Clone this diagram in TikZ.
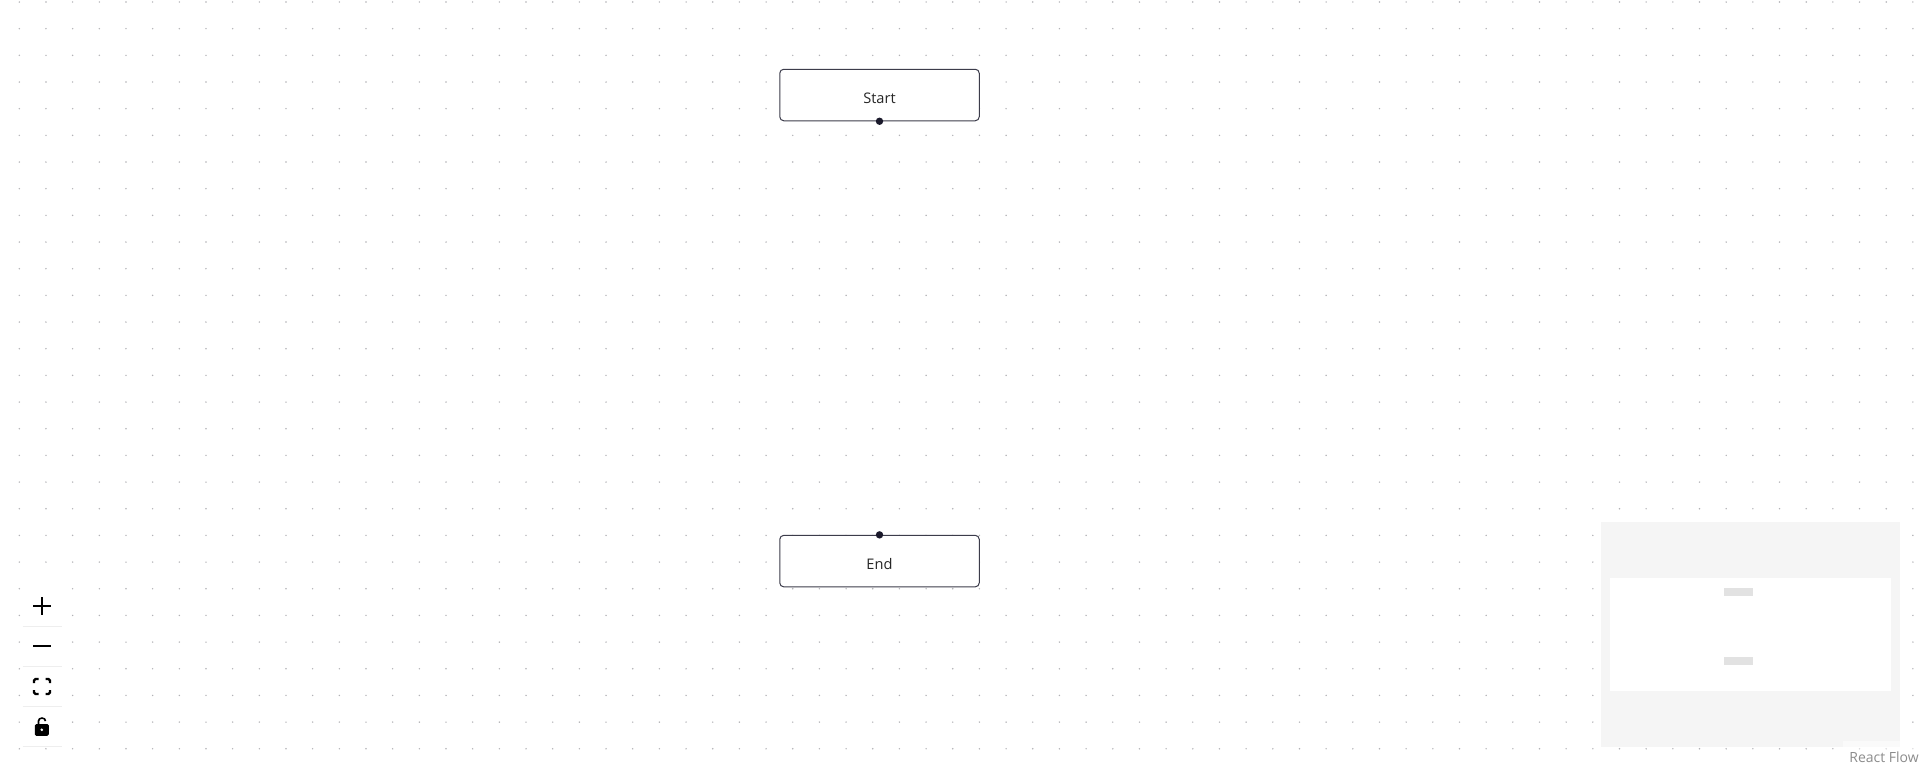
\documentclass[tikz,border=0pt]{standalone}
\usepackage{fontspec}
\setmainfont{Open Sans}
\definecolor{FlowInk}{RGB}{26,25,43}
\definecolor{DotGray}{RGB}{178,178,182}
\definecolor{PanelGray}{RGB}{245,245,245}
\definecolor{MiniGray}{RGB}{226,226,226}
\definecolor{RuleGray}{RGB}{238,238,238}
\usetikzlibrary{positioning}
\tikzset{
  flownode/.style={draw=FlowInk!85, fill=white, rounded corners=4pt, line width=1pt,
    minimum width=199.5pt, inner sep=0pt, text height=34pt, text depth=17.5pt,
    font=\fontsize{14.6}{18}\selectfont, text=black!85},
  handledot/.style={circle, fill=FlowInk, inner sep=0pt, minimum size=7.4pt},
  minirect/.style={fill=MiniGray, draw=none, inner sep=0pt, minimum width=29pt, minimum height=8pt},
  ctrlicon/.style={line width=2.6pt, draw=black},
  ctrlrule/.style={draw=RuleGray, line width=1pt}
}

\begin{document}
\begin{tikzpicture}[x=1pt,y=-1pt]
\useasboundingbox (0,0) rectangle (1923,769);
\fill[white] (0,0) rectangle (1923,769);
% background dots
\foreach \i in {0,...,71}{
  \foreach \j in {0,...,28}{
    \fill[DotGray] ({19.3+26.67*\i},{2+26.67*\j}) circle (0.8pt);
  }
}
% nodes
\node[flownode] (startbox) at (879.5,95) {Start};
\node[flownode, below=413.6pt of startbox] (endbox) {End};
\node[handledot] (starthandle) at (startbox.south) {};
\node[handledot] (endhandle) at (endbox.north) {};
% zoom controls
\fill[white] (22,586) rectangle (62,747);
\draw[ctrlicon] (33,606) -- (51,606);
\draw[ctrlicon] (42,597) -- (42,615);
\draw[ctrlicon] (33,646) -- (51,646);
\draw[ctrlicon, line width=2.2pt, rounded corners=1.5pt] (34,683) -- (34,679) -- (38.5,679);
\draw[ctrlicon, line width=2.2pt, rounded corners=1.5pt] (45.5,679) -- (50,679) -- (50,683);
\draw[ctrlicon, line width=2.2pt, rounded corners=1.5pt] (34,690) -- (34,694) -- (38.5,694);
\draw[ctrlicon, line width=2.2pt, rounded corners=1.5pt] (45.5,694) -- (50,694) -- (50,690);
\draw[ctrlicon, line width=1.6pt] (38.5,724) -- (38.5,721) arc[start angle=180, end angle=360, x radius=3.5pt, y radius=-3pt];
\fill[black, rounded corners=1.5pt] (34.8,724) rectangle (48.8,735.8);
\fill[white] (41.8,729.8) circle (1.4pt);
\foreach \y in {626.3,666.3,706.3,746.3}{
  \draw[ctrlrule] (22.7,\y) -- (61.7,\y);
}
% minimap
\fill[PanelGray] (1601,522) rectangle (1900.3,747);
\fill[white] (1610,578) rectangle (1891.3,691);
\node[minirect] (ministart) at (1738.5,592.3) {};
\node[minirect, below=60pt of ministart] (miniend) {};
% attribution
\fill[white, opacity=0.5] (1843,741) rectangle (1923,769);
\node[text=black!45, font=\fontsize{14}{16}\selectfont, anchor=base east, inner sep=0pt] (attribution) at (1919,762) {React Flow};
\end{tikzpicture}
\end{document}
